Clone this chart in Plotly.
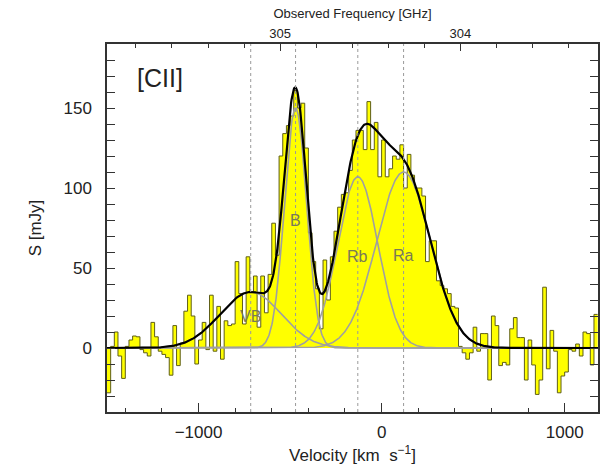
import numpy as np
import plotly.graph_objects as go

# ---- data ----
v_start = -1500          # km/s, left edge of first channel
chan_width = 20          # km/s
flux = [
    -28, 1, 10, -5, -19, 1, 5, 7.5, 7, -1,
    -3, -5, 16, 7, -2, -4, -6, -17, 14, -11,
    3, 23, 33, 20, -10, 5, 16, -1, 33, -2,
    26, -7, 17, 14, 15, 54, 34, 15, 57, 35,
    45, 13, 45, 22, 46, 78, 58, 120, 134, 139,
    145, 161, 150, 153, 125, 72, 54, 37, 12, 55,
    30, 57, 73, 88, 96, 97, 111, 130, 136, 136,
    124, 154, 124, 141, 107, 130, 107, 112, 120, 118,
    127, 100, 121, 108, 100, 100, 95, 54, 67, 67,
    42, 39, 37, 34, 26, 25, 1, -3, -7, -3,
    13, -2, 9, 9, -20, 20, 14, -11, -9, -10.6,
    12, 19, 6.5, 6.5, -20, 5, -10.6, -29, -20, 38,
    -13, 11, -2, -28, -17.5, -15, -1, -2, 2.5, -5,
    10, 9, -10.6, 21,
]

comp_names = ["VB", "B", "Rb", "Ra"]
comp_centers = [-715, -470, -130, 120]     # km/s
comp_amps = [35, 150, 107, 110]            # mJy
comp_sigmas = [167, 60, 110, 147]          # km/s
label_y = [20, 80, 57, 58]                 # mJy, label heights

line_name = "[CII]"
f0 = 304.437            # GHz, frequency at v = 0
c_kms = 299792.458
x_range = [-1500, 1182]
y_range = [-40, 190]

FONT = "Liberation Sans, Arial, sans-serif"
AXC = "#333333"

fig = go.Figure()

# histogram (step outline + yellow fill)
edges = [v_start + chan_width * i for i in range(len(flux) + 1)]
ystep = flux + [flux[-1]]
fig.add_trace(go.Scatter(
    x=edges, y=ystep, mode="lines",
    line=dict(shape="hv", color="#5e5e18", width=1),
    fill="tozeroy", fillcolor="#ffff00",
    hoverinfo="skip", showlegend=False))

# gaussian components
vgrid = np.linspace(x_range[0], x_range[1], 900)
total = np.zeros_like(vgrid)
for mu, a, s in zip(comp_centers, comp_amps, comp_sigmas):
    g = a * np.exp(-0.5 * ((vgrid - mu) / s) ** 2)
    total += g
    fig.add_trace(go.Scatter(x=vgrid, y=g, mode="lines",
                             line=dict(color="#a0a0a0", width=1.6),
                             hoverinfo="skip", showlegend=False))
fig.add_trace(go.Scatter(x=vgrid, y=total, mode="lines",
                         line=dict(color="black", width=2.2),
                         hoverinfo="skip", showlegend=False))

# invisible trace for the frequency axis
f_lo = f0 * (1 - x_range[0] / c_kms)
f_hi = f0 * (1 - x_range[1] / c_kms)
fig.add_trace(go.Scatter(x=[f_lo, f_hi], y=[0, 0], xaxis="x2", mode="lines",
                         opacity=0, hoverinfo="skip", showlegend=False))

# dotted lines at component centres
for mu in comp_centers:
    fig.add_shape(type="line", xref="x", yref="paper", x0=mu, x1=mu, y0=0, y1=1,
                  line=dict(color="#9a9a9a", width=1, dash="dot"), layer="above")

# component labels
for name, mu, ly in zip(comp_names, comp_centers, label_y):
    fig.add_annotation(x=mu, y=ly, xref="x", yref="y", text=name, showarrow=False,
                       font=dict(family=FONT, size=16, color="#7a7a55"))

fig.add_annotation(x=-1210, y=169, xref="x", yref="y", text=line_name, showarrow=False,
                   font=dict(family=FONT, size=25, color="#222222"))

fig.update_layout(
    width=600, height=472,
    margin=dict(l=107, r=0, t=44, b=60),
    paper_bgcolor="white", plot_bgcolor="white",
    font=dict(family=FONT, color="#222222"),
    xaxis=dict(range=x_range, showgrid=False, zeroline=False,
               showline=True, linecolor=AXC, linewidth=1.5, mirror=True,
               ticks="inside", ticklen=9, tickwidth=1.2, tickcolor=AXC,
               tick0=0, dtick=1000,
               minor=dict(ticks="inside", dtick=200, ticklen=4.5, tickwidth=1, tickcolor=AXC),
               tickfont=dict(size=17), ticklabelstandoff=4,
               title=dict(text="Velocity [km  s<sup>−1</sup>]", font=dict(size=17), standoff=8)),
    xaxis2=dict(range=[f_lo, f_hi], overlaying="x", side="top", anchor="y",
                showgrid=False, zeroline=False, showline=False,
                ticks="inside", ticklen=7, tickwidth=1.2, tickcolor=AXC,
                tick0=0, dtick=1,
                minor=dict(ticks="inside", dtick=0.2, ticklen=4, tickwidth=1, tickcolor=AXC),
                tickfont=dict(size=13), ticklabelstandoff=2,
                title=dict(text="Observed Frequency [GHz]", font=dict(size=13), standoff=4)),
    yaxis=dict(range=y_range, showgrid=False, zeroline=False,
               showline=True, linecolor=AXC, linewidth=1.5, mirror="allticks",
               ticks="inside", ticklen=8, tickwidth=1.2, tickcolor=AXC,
               tick0=0, dtick=50,
               minor=dict(ticks="inside", dtick=10, ticklen=4.5, tickwidth=1, tickcolor=AXC),
               tickfont=dict(size=17), ticklabelstandoff=10,
               title=dict(text="S [mJy]", font=dict(size=17), standoff=18)),
)

fig.write_html("out.html", config={"displayModeBar": False},
               post_script="document.body.style.margin='0';document.body.style.padding='0';")
